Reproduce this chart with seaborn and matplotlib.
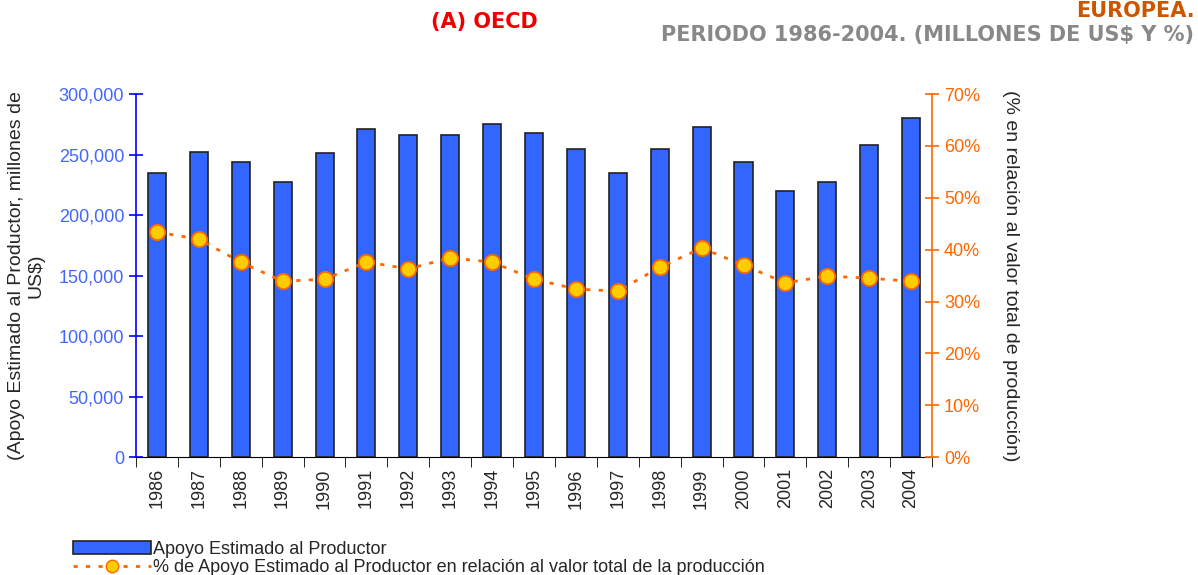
import numpy as np
import pandas as pd
import seaborn as sns
import matplotlib.pyplot as plt
from matplotlib.ticker import FuncFormatter, FixedLocator
from matplotlib.patches import Patch
from matplotlib.lines import Line2D

# datos
years = ['1986', '1987', '1988', '1989', '1990', '1991', '1992', '1993', '1994', '1995',
         '1996', '1997', '1998', '1999', '2000', '2001', '2002', '2003', '2004']
apoyo = [235000, 252500, 243500, 227000, 251500, 271500, 266500, 266500, 275000, 267500,
         254500, 234500, 254500, 273000, 243500, 220000, 227000, 258000, 280500]
pct = [43.4, 42.0, 37.6, 33.9, 34.3, 37.6, 36.3, 38.4, 37.6, 34.3,
       32.4, 32.0, 36.6, 40.3, 37.0, 33.6, 34.9, 34.5, 33.9]

lab_bar = 'Apoyo Estimado al Productor'
lab_line = '% de Apoyo Estimado al Productor en relación al valor total de la producción'

sns.set_style('white')
plt.rcParams['font.family'] = ['Liberation Sans', 'DejaVu Sans']

df = pd.DataFrame({'year': years, 'apoyo': apoyo, 'pct': pct})

fig = plt.figure(figsize=(11.98, 5.75), dpi=100)
ax = fig.add_axes([0.1135, 0.205, 0.6645, 0.6315])

sns.barplot(data=df, x='year', y='apoyo', ax=ax, color='#3366FF', saturation=1,
            width=0.43, edgecolor='#222222', linewidth=1.2)
ax.set_ylim(0, 300000)
ax.set_xlim(-0.5, len(years) - 0.5)
ax.yaxis.set_major_locator(FixedLocator(np.arange(0, 300001, 50000)))
ax.yaxis.set_major_formatter(FuncFormatter(lambda v, p: f'{int(v):,}'))
ax.tick_params(axis='y', colors='#0000FF', labelcolor='#4466FF', labelsize=13,
               direction='inout', length=10, width=1.2, left=True)
ax.set_xticks(range(len(years)))
ax.set_xticklabels(years, rotation=90, fontsize=13)
ax.tick_params(axis='x', length=0, pad=8)
ax.set_xticks(np.arange(-0.5, len(years), 1), minor=True)
ax.tick_params(axis='x', which='minor', bottom=True, direction='out', length=7, color='black')
ax.set_xlabel('')
ax.set_ylabel('(Apoyo Estimado al Productor, millones de\nUS$)', fontsize=14, labelpad=10)
for s in ['top', 'right']:
    ax.spines[s].set_visible(False)
ax.spines['left'].set_color('#0000FF')
ax.spines['left'].set_linewidth(1.2)
ax.spines['bottom'].set_color('black')

ax2 = ax.twinx()
sns.lineplot(x=np.arange(len(years)), y=df['pct'], ax=ax2, color='#FF6600',
             linestyle=(0, (1.5, 3)), linewidth=2, marker='o', markersize=11,
             markerfacecolor='#FFCC00', markeredgecolor='#FF6600', markeredgewidth=1.3)
ax2.set_ylim(0, 70)
ax2.set_xlim(-0.5, len(years) - 0.5)
ax2.yaxis.set_major_locator(FixedLocator(np.arange(0, 71, 10)))
ax2.yaxis.set_major_formatter(FuncFormatter(lambda v, p: f'{int(v)}%'))
ax2.tick_params(axis='y', colors='#FF6600', labelsize=13, direction='inout',
                length=10, width=1.2, right=True)
ax2.set_ylabel('(% en relación al valor total de producción)', fontsize=14,
               rotation=-90, labelpad=28)
for s in ['top', 'left', 'bottom']:
    ax2.spines[s].set_visible(False)
ax2.spines['right'].set_color('#FF6600')
ax2.spines['right'].set_linewidth(1.2)

tfont = ['DejaVu Sans']
fig.text(0.404, 0.962, '(A) OECD', color='#EE0000', fontsize=15, fontweight='bold',
         ha='center', va='center', family=tfont)
fig.text(0.997, 0.999, 'EUROPEA.', color='#CC5500', fontsize=15, fontweight='bold',
         ha='right', va='top', family=tfont)
fig.text(0.997, 0.94, 'PERIODO 1986-2004. (MILLONES DE US$ Y %)', color='#888888',
         fontsize=15, fontweight='bold', ha='right', va='center', family=tfont)

handles = [Patch(facecolor='#3366FF', edgecolor='#222222', linewidth=1.2),
           Line2D([], [], color='#FF6600', linestyle=(0, (1.5, 3)), linewidth=2,
                  marker='o', markersize=9, markerfacecolor='#FFCC00',
                  markeredgecolor='#FF6600')]
fig.legend(handles, [lab_bar, lab_line], loc='lower left', bbox_to_anchor=(0.055, -0.014),
           frameon=False, fontsize=13, handlelength=4.3, handletextpad=0.1,
           labelspacing=0.05, borderaxespad=0)

fig.savefig('out.png', dpi=100)
